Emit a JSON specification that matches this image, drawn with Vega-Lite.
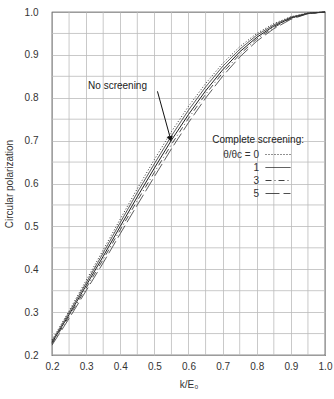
{
 "$schema": "https://vega.github.io/schema/vega-lite/v6.json",
 "width": 273, "height": 343,
 "autosize": "none",
 "padding": {"left": 52, "top": 12, "right": 9, "bottom": 44},
 "background": "white",
 "config": {
  "font": "Liberation Sans",
  "view": {"stroke": "#222", "strokeWidth": 1.2},
  "axis": {"labelFont": "Liberation Sans", "labelFontSize": 10, "labelColor": "#333", "titleFont": "Liberation Sans", "titleFontSize": 10, "titleFontWeight": "normal", "titleColor": "#333", "gridColor": "#bbb", "gridWidth": 0.8, "domain": false, "ticks": false, "labelOverlap": false}
 },
 "datasets": {
  "curves": [
   {"k":0.20,"P":0.229,"s":"none"},{"k":0.25,"P":0.294,"s":"none"},{"k":0.30,"P":0.362,"s":"none"},{"k":0.35,"P":0.430,"s":"none"},{"k":0.40,"P":0.500,"s":"none"},{"k":0.45,"P":0.569,"s":"none"},{"k":0.50,"P":0.636,"s":"none"},{"k":0.55,"P":0.701,"s":"none"},{"k":0.60,"P":0.761,"s":"none"},{"k":0.65,"P":0.816,"s":"none"},{"k":0.70,"P":0.865,"s":"none"},{"k":0.75,"P":0.907,"s":"none"},{"k":0.80,"P":0.941,"s":"none"},{"k":0.85,"P":0.967,"s":"none"},{"k":0.90,"P":0.986,"s":"none"},{"k":0.95,"P":0.997,"s":"none"},{"k":1.00,"P":1.000,"s":"none"},
   {"k":0.20,"P":0.235,"s":"0"},{"k":0.25,"P":0.303,"s":"0"},{"k":0.30,"P":0.374,"s":"0"},{"k":0.35,"P":0.445,"s":"0"},{"k":0.40,"P":0.517,"s":"0"},{"k":0.45,"P":0.588,"s":"0"},{"k":0.50,"P":0.656,"s":"0"},{"k":0.55,"P":0.721,"s":"0"},{"k":0.60,"P":0.780,"s":"0"},{"k":0.65,"P":0.833,"s":"0"},{"k":0.70,"P":0.880,"s":"0"},{"k":0.75,"P":0.919,"s":"0"},{"k":0.80,"P":0.950,"s":"0"},{"k":0.85,"P":0.973,"s":"0"},{"k":0.90,"P":0.989,"s":"0"},{"k":0.95,"P":0.998,"s":"0"},{"k":1.00,"P":1.000,"s":"0"},
   {"k":0.20,"P":0.232,"s":"1"},{"k":0.25,"P":0.299,"s":"1"},{"k":0.30,"P":0.368,"s":"1"},{"k":0.35,"P":0.438,"s":"1"},{"k":0.40,"P":0.509,"s":"1"},{"k":0.45,"P":0.579,"s":"1"},{"k":0.50,"P":0.646,"s":"1"},{"k":0.55,"P":0.711,"s":"1"},{"k":0.60,"P":0.771,"s":"1"},{"k":0.65,"P":0.825,"s":"1"},{"k":0.70,"P":0.873,"s":"1"},{"k":0.75,"P":0.913,"s":"1"},{"k":0.80,"P":0.946,"s":"1"},{"k":0.85,"P":0.970,"s":"1"},{"k":0.90,"P":0.988,"s":"1"},{"k":0.95,"P":0.997,"s":"1"},{"k":1.00,"P":1.000,"s":"1"},
   {"k":0.20,"P":0.226,"s":"3"},{"k":0.25,"P":0.290,"s":"3"},{"k":0.30,"P":0.356,"s":"3"},{"k":0.35,"P":0.423,"s":"3"},{"k":0.40,"P":0.492,"s":"3"},{"k":0.45,"P":0.560,"s":"3"},{"k":0.50,"P":0.626,"s":"3"},{"k":0.55,"P":0.691,"s":"3"},{"k":0.60,"P":0.752,"s":"3"},{"k":0.65,"P":0.808,"s":"3"},{"k":0.70,"P":0.858,"s":"3"},{"k":0.75,"P":0.901,"s":"3"},{"k":0.80,"P":0.937,"s":"3"},{"k":0.85,"P":0.964,"s":"3"},{"k":0.90,"P":0.985,"s":"3"},{"k":0.95,"P":0.996,"s":"3"},{"k":1.00,"P":1.000,"s":"3"},
   {"k":0.20,"P":0.223,"s":"5"},{"k":0.25,"P":0.285,"s":"5"},{"k":0.30,"P":0.350,"s":"5"},{"k":0.35,"P":0.415,"s":"5"},{"k":0.40,"P":0.483,"s":"5"},{"k":0.45,"P":0.550,"s":"5"},{"k":0.50,"P":0.616,"s":"5"},{"k":0.55,"P":0.681,"s":"5"},{"k":0.60,"P":0.742,"s":"5"},{"k":0.65,"P":0.799,"s":"5"},{"k":0.70,"P":0.850,"s":"5"},{"k":0.75,"P":0.895,"s":"5"},{"k":0.80,"P":0.932,"s":"5"},{"k":0.85,"P":0.961,"s":"5"},{"k":0.90,"P":0.983,"s":"5"},{"k":0.95,"P":0.996,"s":"5"},{"k":1.00,"P":1.000,"s":"5"}
  ],
  "minorX": [{"k":0.25},{"k":0.35},{"k":0.45},{"k":0.55},{"k":0.65},{"k":0.75},{"k":0.85},{"k":0.95}],
  "minorY": [{"P":0.25},{"P":0.35},{"P":0.45},{"P":0.55},{"P":0.65},{"P":0.75},{"P":0.85},{"P":0.95}],
  "note": [{"k": 0.392, "P": 0.827, "label": "No screening"}, {"k": 0.804, "P": 0.701, "label": "Complete screening:"}],
  "arrow": [{"k": 0.509, "P": 0.815, "k2": 0.546, "P2": 0.708}],
  "tip": [{"k": 0.547, "P": 0.704}]
 },
 "layer": [
  {
   "data": {"name": "minorX"},
   "mark": {"type": "rule", "color": "#bbb", "strokeWidth": 0.8},
   "encoding": {"x": {"field": "k", "type": "quantitative"}}
  },
  {
   "data": {"name": "minorY"},
   "mark": {"type": "rule", "color": "#bbb", "strokeWidth": 0.8},
   "encoding": {"y": {"field": "P", "type": "quantitative"}}
  },
  {
   "data": {"name": "curves"},
   "transform": [{"filter": "datum.s == 'none'"}],
   "mark": {"type": "line", "color": "#222", "strokeWidth": 1},
   "encoding": {
    "x": {"field": "k", "type": "quantitative", "scale": {"domain": [0.2, 1.0], "nice": false, "zero": false},
          "axis": {"title": "k/E₀", "values": [0.2,0.3,0.4,0.5,0.6,0.7,0.8,0.9,1.0], "tickCount": 9, "format": ".1f", "labelPadding": 6, "titlePadding": 8, "labelFlush": false}},
    "y": {"field": "P", "type": "quantitative", "scale": {"domain": [0.2, 1.0], "nice": false, "zero": false},
          "axis": {"title": "Circular polarization", "values": [0.2,0.3,0.4,0.5,0.6,0.7,0.8,0.9,1.0], "tickCount": 9, "format": ".1f", "labelPadding": 14, "titlePadding": 10, "labelFlush": false}}
   }
  },
  {
   "data": {"name": "curves"},
   "transform": [{"filter": "datum.s != 'none'"}],
   "mark": {"type": "line", "color": "#333"},
   "encoding": {
    "x": {"field": "k", "type": "quantitative"},
    "y": {"field": "P", "type": "quantitative"},
    "strokeDash": {"field": "s", "type": "nominal",
      "scale": {"domain": ["0","1","3","5"], "range": [[1,2],[1,0],[6,3,1,3],[14,4]]},
      "legend": {"orient": "none", "legendX": 220.5, "legendY": 137, "title": null, "labelFontSize": 10, "labelFont": "Liberation Sans", "labelColor": "#333", "symbolType": "M-2.5,0H2.5", "symbolSize": 100, "symbolStrokeColor": "#222", "symbolFillColor": "transparent", "labelAlign": "right", "labelOffset": -24.5, "rowPadding": 2, "labelExpr": "datum.label == '0' ? 'θ/θc = 0' : datum.label"}},
    "strokeWidth": {"field": "s", "type": "nominal", "scale": {"domain": ["0","1","3","5"], "range": [1, 0.8, 1, 1.4]}, "legend": null}
   }
  },
  {
   "data": {"name": "note"},
   "mark": {"type": "text", "fontSize": 10, "font": "Liberation Sans", "color": "#222"},
   "encoding": {"x": {"field": "k", "type": "quantitative"}, "y": {"field": "P", "type": "quantitative"}, "text": {"field": "label"}}
  },
  {
   "data": {"name": "arrow"},
   "mark": {"type": "rule", "color": "#111", "strokeWidth": 1},
   "encoding": {"x": {"field": "k", "type": "quantitative"}, "y": {"field": "P", "type": "quantitative"}, "x2": {"field": "k2"}, "y2": {"field": "P2"}}
  },
  {
   "data": {"name": "tip"},
   "mark": {"type": "point", "shape": "triangle-down", "filled": true, "color": "#111", "size": 40, "angle": 345, "opacity": 1},
   "encoding": {"x": {"field": "k", "type": "quantitative"}, "y": {"field": "P", "type": "quantitative"}}
  }
 ]
}
